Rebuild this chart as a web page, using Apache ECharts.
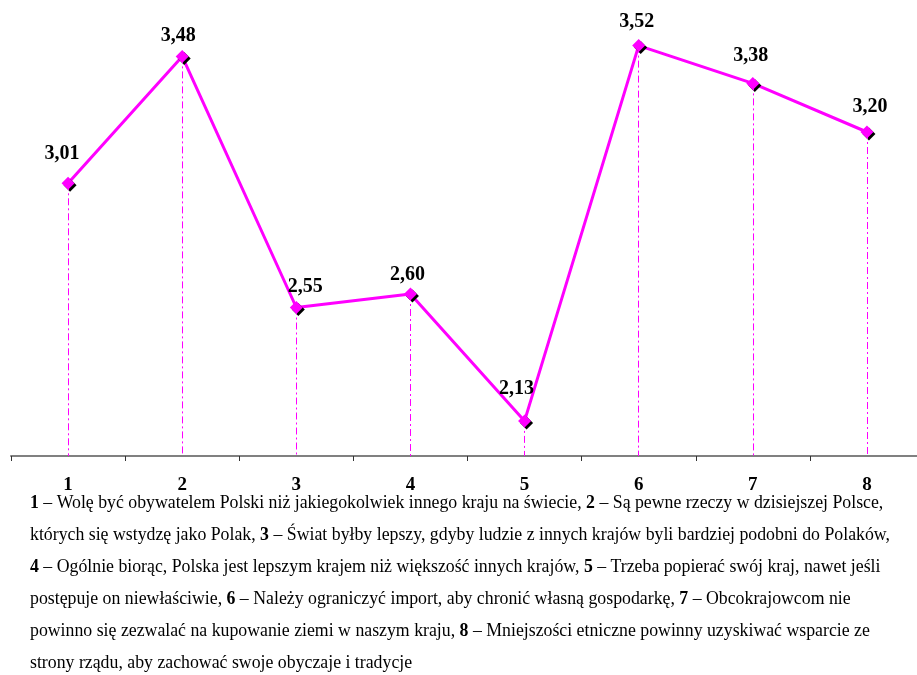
<!DOCTYPE html>
<html>
<head>
<meta charset="utf-8">
<script src="https://cdn.jsdelivr.net/npm/echarts@6/dist/echarts.min.js"></script>
<style>
  html, body { margin: 0; padding: 0; background: #fff; overflow: hidden; }
  #chart { width: 924px; height: 675px; }
</style>
</head>
<body>
<div id="chart"></div>
<script>
var categories = ['1', '2', '3', '4', '5', '6', '7', '8'];
var values = [3.01, 3.48, 2.55, 2.60, 2.13, 3.52, 3.38, 3.20];

var notes = [
  '{b|1} – Wolę być obywatelem Polski niż jakiegokolwiek innego kraju na świecie, {b|2} – Są pewne rzeczy w dzisiejszej Polsce,',
  'których się wstydzę jako Polak, {b|3} – Świat byłby lepszy, gdyby ludzie z innych krajów byli bardziej podobni do Polaków,',
  '{b|4} – Ogólnie biorąc, Polska jest lepszym krajem niż większość innych krajów, {b|5} – Trzeba popierać swój kraj, nawet jeśli',
  'postępuje on niewłaściwie, {b|6} – Należy ograniczyć import, aby chronić własną gospodarkę, {b|7} – Obcokrajowcom nie',
  'powinno się zezwalać na kupowanie ziemi w naszym kraju, {b|8} – Mniejszości etniczne powinny uzyskiwać wsparcie ze',
  'strony rządu, aby zachować swoje obyczaje i tradycje'
];

var serif = '"Liberation Serif", "Times New Roman", serif';
var magenta = '#ff00ff';

// labels were hand placed in the original, nudge them a bit
var nudge = [[-6, -29], [-4, -21], [9, -21], [-3, -19], [-8, -32], [-2, -24], [-2, -28], [3, -25]];

var points = [];
var drops = [];
for (let i = 0; i < values.length; i++) {
  points.push({ value: values[i], label: { offset: nudge[i] } });
  drops.push([{ coord: [i, values[i]] }, { coord: [i, 2] }]);
}

var chart = echarts.init(document.getElementById('chart'));
var option = {
  animation: false,
  grid: { left: 11, right: 0, top: 24, bottom: 219, containLabel: false },
  xAxis: {
    type: 'category',
    data: categories,
    boundaryGap: true,
    axisLine: { lineStyle: { color: '#808080', width: 2 } },
    axisTick: { show: true, length: 5, lineStyle: { color: '#333', width: 1 } },
    axisLabel: {
      margin: 20,
      color: '#000',
      fontFamily: serif,
      fontWeight: 'bold',
      fontSize: 19
    }
  },
  yAxis: {
    type: 'value',
    min: 2,
    max: 3.6,
    show: false,
    splitLine: { show: false }
  },
  series: [
    {
      // dash-dot drop lines, kept apart from the shadowed markers
      type: 'line',
      data: [],
      silent: true,
      markLine: {
        silent: true,
        symbol: ['none', 'none'],
        label: { show: false },
        lineStyle: { color: magenta, width: 1, type: [7, 3, 2, 3] },
        emphasis: { disabled: true },
        data: drops
      },
      z: 1
    },
    {
      type: 'line',
      data: points,
      symbol: 'diamond',
      symbolSize: [13, 13],
      lineStyle: { color: magenta, width: 3 },
      itemStyle: {
        color: magenta,
        shadowColor: '#000',
        shadowOffsetX: 2,
        shadowOffsetY: 2,
        shadowBlur: 0
      },
      label: {
        show: true,
        position: 'inside',
        color: '#000',
        fontFamily: serif,
        fontWeight: 'bold',
        fontSize: 20,
        formatter: function (p) { return p.value.toFixed(2).replace('.', ','); }
      },
      z: 3
    }
  ],
  graphic: [
    {
      type: 'text',
      left: 30,
      top: 487,
      style: {
        text: notes.join('\n'),
        fill: '#000',
        font: '17.8px ' + serif,
        lineHeight: 32,
        rich: {
          b: { fontWeight: 'bold', fontFamily: serif, fontSize: 17.8, lineHeight: 32 }
        }
      }
    }
  ]
};
chart.setOption(option);
</script>
</body>
</html>
